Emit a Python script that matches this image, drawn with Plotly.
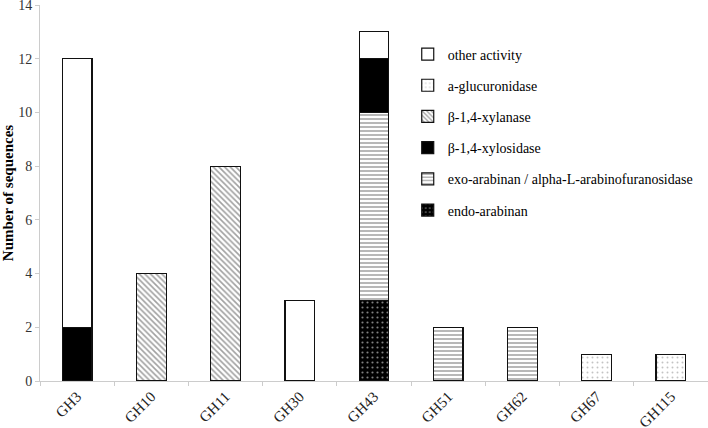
import plotly.graph_objects as go

categories = ["GH3", "GH10", "GH11", "GH30", "GH43", "GH51", "GH62", "GH67", "GH115"]

endo_arabinan = [0, 0, 0, 0, 3, 0, 0, 0, 0]
exo_arabinan = [0, 0, 0, 0, 7, 2, 2, 0, 0]
xylosidase = [2, 0, 0, 0, 2, 0, 0, 0, 0]
xylanase = [0, 4, 8, 0, 0, 0, 0, 0, 0]
glucuronidase = [0, 0, 0, 0, 0, 0, 0, 1, 1]
other_activity = [10, 0, 0, 3, 1, 0, 0, 0, 0]

series = [
    ("endo-arabinan", endo_arabinan, dict(color="black", pattern=dict(shape=".", fgcolor="white", bgcolor="black", size=5, solidity=0.15))),
    ("exo-arabinan / alpha-L-arabinofuranosidase", exo_arabinan, dict(color="white", pattern=dict(shape="-", fgcolor="#333333", bgcolor="white", size=4, solidity=0.35))),
    ("β-1,4-xylosidase", xylosidase, dict(color="black")),
    ("β-1,4-xylanase", xylanase, dict(color="white", pattern=dict(shape="\\", fgcolor="#444444", bgcolor="white", size=4, solidity=0.4))),
    ("a-glucuronidase", glucuronidase, dict(color="white", pattern=dict(shape=".", fgcolor="#888888", bgcolor="white", size=5, solidity=0.12))),
    ("other activity", other_activity, dict(color="white")),
]

fig = go.Figure()
n = len(series)
for i, (name, vals, mk) in enumerate(series):
    mk = dict(mk)
    mk["line"] = dict(color="#111111", width=1.2)
    fig.add_trace(go.Bar(
        x=categories, y=vals, name=name, marker=mk, width=0.4,
        legendgroup="g%d" % i, legendrank=n - i,
    ))

serif = "Liberation Serif"
fig.update_layout(
    barmode="stack",
    width=708, height=428,
    margin=dict(l=40, r=0, t=5, b=47),
    plot_bgcolor="white", paper_bgcolor="white",
    font=dict(family=serif, size=14, color="black"),
    showlegend=True,
    legend=dict(
        traceorder="grouped", x=0.5505, y=0.911, xanchor="left", yanchor="top",
        font=dict(family=serif, size=14), tracegroupgap=10,
        bgcolor="rgba(0,0,0,0)", itemwidth=30,
    ),
    xaxis=dict(
        showline=True, linecolor="#cccccc", linewidth=1,
        ticks="outside", tickson="boundaries", ticklen=4, tickcolor="#cccccc",
        tickangle=-45, tickfont=dict(family=serif, size=15, color="#222222"),
        showgrid=False, automargin=False,
    ),
    yaxis=dict(
        range=[0, 14], dtick=2, showline=True, linecolor="#cccccc", linewidth=1,
        ticks="outside", ticklen=4, tickcolor="#cccccc",
        showgrid=False, zeroline=False, automargin=False,
        ticklabeloverflow="allow",
        tickfont=dict(family=serif, size=14, color="#333333"),
        title=dict(text="<b>Number of sequences</b>", font=dict(family=serif, size=15), standoff=8),
    ),
)

fig.write_html("out.html", config={"displayModeBar": False},
               post_script="document.body.style.margin='0';")
